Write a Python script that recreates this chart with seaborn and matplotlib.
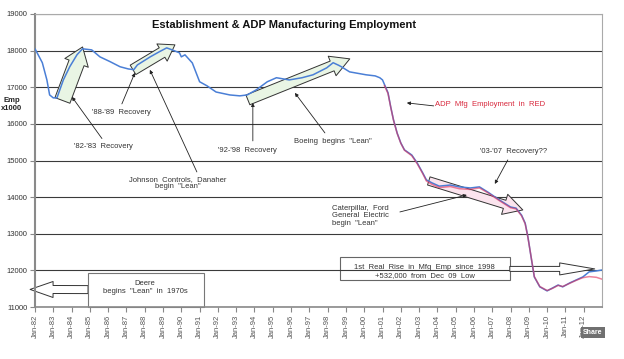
import numpy as np
import pandas as pd
import seaborn as sns
import matplotlib.pyplot as plt
from matplotlib.patches import FancyArrowPatch, Rectangle

# BLS establishment survey, manufacturing employment (thousands)
bls_year = [1982.0, 1982.4, 1982.65, 1982.8, 1983.0, 1983.2, 1983.55, 1983.9, 1984.3, 1984.6,
            1985.1, 1985.55, 1986.1, 1986.65, 1987.1, 1987.4, 1987.6, 1988.3, 1988.8, 1989.2,
            1989.5, 1989.9, 1990.0, 1990.2, 1990.6, 1991.0, 1991.4, 1991.9, 1992.65, 1993.2,
            1993.6, 1994.1, 1994.7, 1995.2, 1995.9, 1996.6, 1997.2, 1997.95, 1998.3, 1998.6,
            1998.75, 1999.2, 2000.1, 2000.6, 2000.85, 2001.0, 2001.3, 2001.45, 2001.6, 2001.8,
            2002.0, 2002.2, 2002.6, 2002.9, 2003.2, 2003.4, 2003.7, 2004.1, 2004.7, 2005.2,
            2005.8, 2006.3, 2006.75, 2007.4, 2008.0, 2008.3, 2008.6, 2008.8, 2008.95, 2009.15,
            2009.3, 2009.6, 2010.0, 2010.3, 2010.6, 2010.85, 2011.25, 2011.6, 2011.95, 2012.3,
            2012.7, 2013.0]
bls_emp = [18050, 17670, 17200, 16790, 16710, 16710, 17200, 17560, 17890, 18050,
           18020, 17830, 17700, 17560, 17500, 17480, 17610, 17830, 17970, 18075,
           18020, 17940, 17830, 17885, 17665, 17150, 17040, 16870, 16790, 16765,
           16790, 16930, 17150, 17260, 17200, 17260, 17340, 17530, 17670, 17600,
           17560, 17420, 17340, 17310, 17260, 17200, 16850, 16460, 16110, 15750,
           15480, 15290, 15150, 14930, 14660, 14470, 14390, 14300, 14330, 14280,
           14250, 14280, 14140, 13920, 13730, 13700, 13510, 13290, 12910, 12280,
           11820, 11550, 11440, 11520, 11600, 11550, 11660, 11740, 11820, 11960,
           11985, 12010]

# ADP manufacturing employment (thousands)
adp_year = [2001.1, 2001.3, 2001.45, 2001.6, 2001.8, 2002.0, 2002.2, 2002.6, 2002.9, 2003.2,
            2003.4, 2003.7, 2004.1, 2004.7, 2005.2, 2005.8, 2006.3, 2006.75, 2007.4, 2008.0,
            2008.3, 2008.6, 2008.8, 2008.95, 2009.15, 2009.3, 2009.6, 2010.0, 2010.3, 2010.6,
            2010.85, 2011.25, 2011.6, 2011.95, 2012.3, 2012.7, 2013.0]
adp_emp = [17050, 16830, 16450, 16100, 15740, 15470, 15280, 15130, 14910, 14640,
           14440, 14350, 14260, 14290, 14230, 14210, 14250, 14120, 13900, 13710,
           13680, 13490, 13270, 12900, 12290, 11830, 11560, 11450, 11510, 11590,
           11560, 11650, 11730, 11800, 11830, 11810, 11760]

tick_years = list(range(1982, 2013))
tick_labels = [f"Jan-{y % 100:02d}" for y in tick_years]
y_ticks = list(range(11000, 20000, 1000))

sns.set_style("white")
plt.rcParams['font.family'] = ['Liberation Sans', 'DejaVu Sans']

fig = plt.figure(figsize=(6.24, 3.59), dpi=100)
ax = fig.add_axes([35 / 624, 1 - 307 / 359, 567 / 624, 293 / 359])

df_bls = pd.DataFrame({'year': bls_year, 'emp': bls_emp})
df_adp = pd.DataFrame({'year': adp_year, 'emp': adp_emp})
sns.lineplot(data=df_bls, x='year', y='emp', color='#4a7fd6', lw=1.1, ax=ax, zorder=3)
sns.lineplot(data=df_adp, x='year', y='emp', color='#e0305a', lw=1.1, alpha=0.6, ax=ax, zorder=4)

ax.set_xlim(1982, 2013)
ax.set_ylim(11000, 19000)
ax.set_xlabel('')
ax.set_ylabel('')
ax.set_xticks(tick_years)
ax.set_xticklabels(tick_labels, rotation=90, fontsize=5.5, color='#555')
ax.set_yticks(y_ticks)
ax.set_yticklabels([str(v) for v in y_ticks], fontsize=5.5, color='#333')
ax.tick_params(axis='both', bottom=True, left=True, direction='out', length=3.5,
               width=0.8, color='#888', pad=2)
ax.yaxis.grid(True, color='#3a3a3a', lw=0.8)
for s in ['top', 'right']:
    ax.spines[s].set_color('#aaaaaa')
    ax.spines[s].set_linewidth(0.8)
ax.spines['left'].set_color('#8a8a8a')
ax.spines['left'].set_linewidth(1.5)
ax.spines['bottom'].set_color('#8a8a8a')
ax.spines['bottom'].set_linewidth(1.2)


def block_arrow(tail, tip, tail_w, head_w, head_l, fc, z=2):
    # widths given in pixels, arrowstyle wants points
    style = "simple,head_length=%.2f,head_width=%.2f,tail_width=%.2f" % (
        head_l * 0.72, head_w * 0.72, tail_w * 0.72)
    p = FancyArrowPatch(tail, tip, arrowstyle=style, mutation_scale=1, fc=fc, ec='#333',
                        lw=0.7, shrinkA=0, shrinkB=0, zorder=z, clip_on=False)
    ax.add_patch(p)


def pointer(start, end):
    ax.annotate('', xy=end, xytext=start,
                arrowprops=dict(arrowstyle='-|>', color='#222', lw=0.6, mutation_scale=5,
                                shrinkA=0, shrinkB=0))


green = '#e9f5e4'
block_arrow((1983.5, 16640), (1984.6, 18100), 16, 25, 17, green)
block_arrow((1987.36, 17475), (1989.65, 18158), 11, 20, 15, green)
block_arrow((1993.64, 16655), (1999.21, 17775), 10.5, 21, 19, green)
block_arrow((2003.53, 14442), (2008.67, 13650), 8.5, 21, 19, '#fbe4ee')

txt = dict(fontsize=5.5, color='#333', ha='center', va='center')
ax.text(1985.72, 15371, "'82-'83  Recovery", **txt)
pointer((1985.66, 15600), (1984.02, 16737))
ax.text(1986.75, 16300, "'88-'89  Recovery", **txt)
pointer((1986.75, 16546), (1987.46, 17393))
ax.text(1989.81, 14388, 'Johnson  Controls,  Danaher\nbegin  "Lean"', linespacing=1.1, **txt)
pointer((1990.85, 14688), (1988.28, 17475))
ax.text(1993.64, 15262, "'92-'98  Recovery", **txt)
pointer((1993.91, 15535), (1993.91, 16573))
ax.text(1998.28, 15508, 'Boeing  begins  "Lean"', **txt)
pointer((1997.85, 15754), (1996.21, 16846))
ax.text(2003.86, 16519, 'ADP  Mfg  Employment  in  RED', fontsize=5.5, color='#d8283c',
        ha='left', va='center')
pointer((2003.80, 16491), (2002.33, 16573))
ax.text(2008.17, 15235, "'03-'07  Recovery??", **txt)
pointer((2007.85, 15016), (2007.14, 14360))
ax.text(1998.23, 13486, 'Caterpillar,  Ford\nGeneral  Electric\nbegin  "Lean"', fontsize=5.5,
        color='#333', ha='left', va='center', linespacing=1.1)
pointer((2001.95, 13595), (2005.61, 14060))

# Deere box with left-pointing arrow out past the axis
ax.add_patch(Rectangle((1984.9, 11000), 6.33, 929, fc='white', ec='#777', lw=0.8,
                       zorder=2.5, clip_on=False))
block_arrow((1984.9, 11475), (1981.73, 11480), 8, 16, 23, 'white', z=2.4)
ax.text(1988.01, 11533, 'Deere\nbegins  "Lean"  in  1970s', zorder=5, linespacing=1.1, **txt)

# 1st real rise box, gridline shows through it
ax.add_patch(Rectangle((1998.67, 11738), 9.29, 628, fc='white', ec='#666', lw=0.8, zorder=0.4))
block_arrow((2007.96, 12040), (2012.6, 12040), 5, 12, 35, 'white', z=1)
ax.text(2003.31, 11970, '1st  Real  Rise  in  Mfg  Emp  since  1998\n+532,000  from  Dec  09  Low',
        zorder=5, linespacing=1.1, **txt)

fig.text(284.5 / 624, 1 - 25 / 359, 'Establishment & ADP Manufacturing Employment',
         ha='center', va='center', fontsize=8, weight='bold', color='#111')
fig.text(12 / 624, 1 - 104 / 359, 'Emp\nx1000', ha='center', va='center', fontsize=5.5,
         weight='bold', color='#222', linespacing=1.2)
fig.text(593 / 624, 1 - 332.5 / 359, 'Share', ha='center', va='center', fontsize=5,
         weight='bold', color='white',
         bbox=dict(boxstyle='square,pad=0.35', fc='#707070', ec='none'))

fig.savefig('out.png', dpi=100)
